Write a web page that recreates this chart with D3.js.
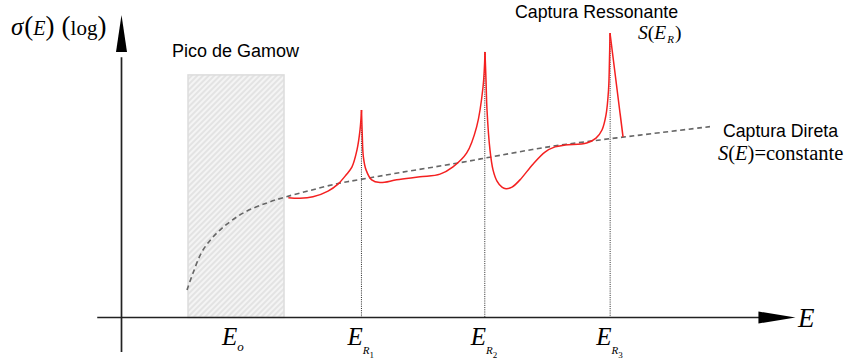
<!DOCTYPE html>
<html>
<head>
<meta charset="utf-8">
<script src="https://cdn.jsdelivr.net/npm/d3@7"></script>
<style>
  body { margin: 0; background: #fff; }
  svg { display: block; }
</style>
</head>
<body>
<div class="graph-area"></div>
<script>
// energias das ressonancias (eixo x, unidades arbitrarias) e alturas dos picos
var resonancias = [35.6, 53.9, 72.5]
var alturasPicos = [68.6, 87.8, 94.0]

// janela de Gamow
var gamowInicio = 9.87
var gamowFim = 24.11
var gamowTopo = 80.2

// captura direta (linha tracejada)
var capturaDireta = [
  [9.72, 9.1], [10.61, 14.7], [12.09, 22.3], [14.61, 28.9], [18.03, 34.5],
  [21.59, 37.9], [24.26, 39.8], [27.97, 42.0], [32.12, 44.3], [35.39, 45.6],
  [41.32, 47.9], [49.73, 51.0], [56.16, 53.6], [63.58, 56.5], [71.0, 58.7],
  [76.93, 60.3], [87.31, 63.1]
]

// captura ressonante (curva vermelha), em trechos separados nos picos
var ressonante1 = [
  [24.75, 39.6], [26.48, 39.4], [28.41, 39.9], [30.64, 41.8], [32.12, 44.1],
  [33.31, 47.1], [34.2, 49.8], [34.94, 55.4], [35.39, 62.0], [35.61, 68.6]
]
var ressonante2 = [
  [35.61, 68.6], [35.73, 59.8], [35.88, 53.2], [36.28, 48.8], [37.12, 45.5],
  [38.35, 44.6], [40.83, 45.5], [44.29, 46.5], [47.26, 47.4], [49.18, 49.8],
  [51.22, 54.4], [52.7, 63.1], [53.64, 76.2], [53.93, 87.8]
]
var ressonante3 = [
  [53.93, 87.8], [54.08, 78.5], [54.23, 68.6], [54.67, 55.4], [55.12, 48.8],
  [55.71, 45.1], [56.45, 43.1], [57.05, 42.6], [57.94, 43.1], [59.12, 45.5],
  [61.05, 50.7], [62.83, 54.7], [64.32, 56.4], [65.8, 57.0], [69.02, 57.7],
  [70.4, 59.3], [71.29, 62.0], [71.88, 66.9], [72.26, 75.2], [72.4, 85.1],
  [72.48, 94.0]
]
var ressonante4 = [[72.48, 94.0], [74.41, 59.7]]

// rotulos do eixo x
var rotulosPos = [17.0, 35.6, 53.9, 72.5]
var rotulosSub = ['o', 'R', 'R', 'R']
var rotulosSubSub = ['', '1', '2', '3']

var width = 845
var height = 363

var x = d3.scaleLinear().domain([0, 100]).range([121.5, 795.5])
var y = d3.scaleLinear().domain([0, 100]).range([317.5, 15])

var svg = d3.select('.graph-area').append('svg')
  .attr('width', width)
  .attr('height', height)

var defs = svg.append('defs')
var hatch = defs.append('pattern')
  .attr('id', 'hatch')
  .attr('patternUnits', 'userSpaceOnUse')
  .attr('width', 4)
  .attr('height', 4)
  .attr('patternTransform', 'rotate(45)')
hatch.append('rect').attr('width', 4).attr('height', 4).attr('fill', '#f4f4f4')
hatch.append('line')
  .attr('x1', 1).attr('y1', 0).attr('x2', 1).attr('y2', 4)
  .attr('stroke', '#dadada').attr('stroke-width', 1.3)

// janela de Gamow
svg.append('rect')
  .attr('x', x(gamowInicio))
  .attr('y', y(gamowTopo))
  .attr('width', x(gamowFim) - x(gamowInicio))
  .attr('height', y(0) - y(gamowTopo))
  .attr('fill', 'url(#hatch)')
  .attr('stroke', '#dcdcdc')
  .attr('stroke-width', 1.5)

// linhas pontilhadas das ressonancias
resonancias.forEach(function (r, i) {
  svg.append('line')
    .attr('x1', x(r)).attr('x2', x(r))
    .attr('y1', y(alturasPicos[i])).attr('y2', y(0))
    .attr('stroke', '#111')
    .attr('stroke-width', 0.9)
    .attr('stroke-dasharray', '1,1.2')
})

// eixos
var corEixo = '#222'
svg.append('line')
  .attr('x1', x(-3.6)).attr('x2', x(95))
  .attr('y1', y(0)).attr('y2', y(0))
  .attr('stroke', corEixo).attr('stroke-width', 1.7)
svg.append('path')
  .attr('d', 'M' + x(94.5) + ',' + (y(0) - 6) + 'L' + x(100) + ',' + y(0) + 'L' + x(94.5) + ',' + (y(0) + 6) + 'Z')
  .attr('fill', '#000')
svg.append('line')
  .attr('x1', x(0)).attr('x2', x(0))
  .attr('y1', y(-11.4)).attr('y2', y(86))
  .attr('stroke', corEixo).attr('stroke-width', 1.7)
svg.append('path')
  .attr('d', 'M' + (x(0) - 5.5) + ',' + y(87.8) + 'L' + x(0) + ',' + y(100) + 'L' + (x(0) + 5.5) + ',' + y(87.8) + 'Z')
  .attr('fill', '#000')

var linha = d3.line()
  .x(function (d) { return x(d[0]) })
  .y(function (d) { return y(d[1]) })
  .curve(d3.curveCatmullRom.alpha(0.5))

// captura direta
svg.append('path')
  .attr('d', linha(capturaDireta))
  .attr('fill', 'none')
  .attr('stroke', '#666')
  .attr('stroke-width', 1.6)
  .attr('stroke-dasharray', '5,3.5')

// captura ressonante
;[ressonante1, ressonante2, ressonante3, ressonante4].forEach(function (trecho) {
  svg.append('path')
    .attr('d', linha(trecho))
    .attr('fill', 'none')
    .attr('stroke', '#f42020')
    .attr('stroke-width', 1.5)
})

// rotulos do eixo x
var serif = "'Liberation Serif', 'DejaVu Serif', serif"
var sans = "'Liberation Sans', Arial, sans-serif"
rotulosPos.forEach(function (p, i) {
  var t = svg.append('text')
    .attr('x', x(p) - 14)
    .attr('y', 345)
    .attr('font-family', serif)
    .attr('font-style', 'italic')
    .attr('fill', '#000')
  t.append('tspan').attr('font-size', 25).text('E')
  t.append('tspan').attr('font-size', rotulosSubSub[i] ? 11 : 13).attr('dy', rotulosSubSub[i] ? 9 : 6).text(rotulosSub[i])
  if (rotulosSubSub[i]) {
    t.append('tspan').attr('font-size', 9).attr('font-style', 'normal').attr('dy', 4).text(rotulosSubSub[i])
  }
})

// rotulo do eixo E
svg.append('text')
  .attr('x', 798).attr('y', 327)
  .attr('font-family', serif).attr('font-style', 'italic')
  .attr('font-size', 27)
  .text('E')

// rotulo do eixo sigma
var ty = svg.append('text')
  .attr('x', 11).attr('y', 35)
  .attr('font-family', serif)
  .attr('fill', '#000')
ty.append('tspan').attr('font-size', 25).attr('font-style', 'italic').text('σ')
ty.append('tspan').attr('font-size', 27).attr('dx', 1).text('(')
ty.append('tspan').attr('font-size', 20).attr('font-style', 'italic').text('E')
ty.append('tspan').attr('font-size', 27).text(')')
ty.append('tspan').attr('font-size', 20).text(' ')
ty.append('tspan').attr('font-size', 27).attr('dx', 2).text('(')
ty.append('tspan').attr('font-size', 21).text('log')
ty.append('tspan').attr('font-size', 27).text(')')

// textos
svg.append('text')
  .attr('x', 172).attr('y', 56.5)
  .attr('font-family', sans).attr('font-size', 18)
  .text('Pico de Gamow')

svg.append('text')
  .attr('x', 515).attr('y', 17.5)
  .attr('font-family', sans).attr('font-size', 17.8)
  .text('Captura Ressonante')

var ser = svg.append('text')
  .attr('x', 638).attr('y', 39)
  .attr('font-family', serif).attr('font-size', 19.5)
ser.append('tspan').attr('font-style', 'italic').text('S')
ser.append('tspan').text('(')
ser.append('tspan').attr('font-style', 'italic').text('E')
ser.append('tspan').attr('font-style', 'italic').attr('font-size', 11).attr('dx', 1).attr('dy', 4).text('R')
ser.append('tspan').attr('dx', 1).attr('dy', -4).text(')')

svg.append('text')
  .attr('x', 723).attr('y', 136.5)
  .attr('font-family', sans).attr('font-size', 17.7)
  .text('Captura Direta')

var se = svg.append('text')
  .attr('x', 718).attr('y', 160)
  .attr('font-family', serif).attr('font-size', 20.5)
se.append('tspan').attr('font-style', 'italic').text('S')
se.append('tspan').text('(')
se.append('tspan').attr('font-style', 'italic').text('E')
se.append('tspan').text(')=constante')
</script>
</body>
</html>
